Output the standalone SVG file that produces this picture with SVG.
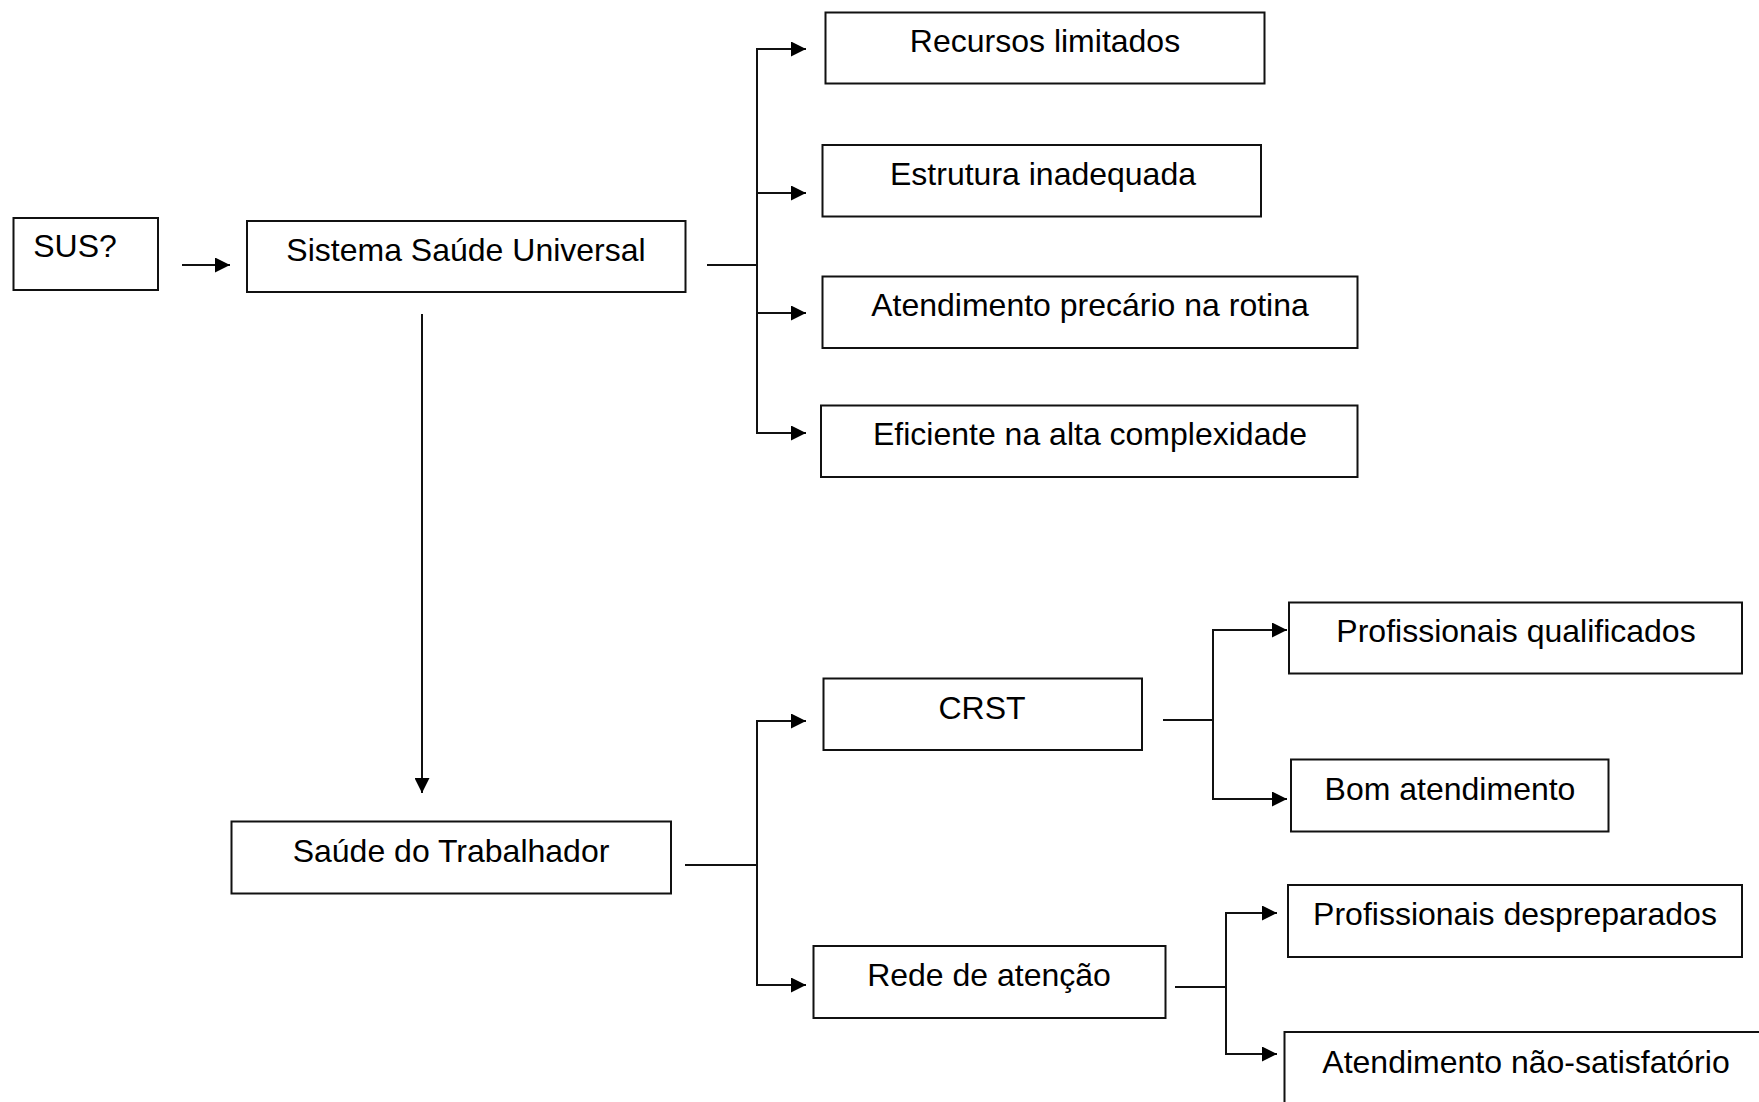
<svg xmlns="http://www.w3.org/2000/svg" width="1759" height="1102" viewBox="0 0 1759 1102">
<style>
.box{fill:#fff;stroke:#111;stroke-width:2}
.t{font-family:"Liberation Sans",Arial,sans-serif;font-size:32px;fill:#000;text-anchor:middle}
.c{fill:none;stroke:#111;stroke-width:2}
</style>
<defs>
<marker id="ah" markerUnits="userSpaceOnUse" markerWidth="15" markerHeight="15" refX="15" refY="7.5" orient="auto">
<path d="M0,0 L15,7.5 L0,15 z" fill="#000"/>
</marker>
</defs>
<rect width="1759" height="1102" fill="#fff"/>
<g id="connectors">
<line class="c" x1="182" y1="265" x2="230" y2="265" marker-end="url(#ah)"/>
<line class="c" x1="707" y1="265" x2="757" y2="265"/>
<polyline class="c" points="806,49 757,49 757,433 806,433" marker-end="url(#ah)"/>
<line class="c" x1="757" y1="49" x2="806" y2="49" marker-end="url(#ah)"/>
<line class="c" x1="757" y1="193" x2="806" y2="193" marker-end="url(#ah)"/>
<line class="c" x1="757" y1="313" x2="806" y2="313" marker-end="url(#ah)"/>
<line class="c" x1="422" y1="314" x2="422" y2="793" marker-end="url(#ah)"/>
<line class="c" x1="685" y1="865" x2="757" y2="865"/>
<polyline class="c" points="806,721 757,721 757,985 806,985" marker-end="url(#ah)"/>
<line class="c" x1="757" y1="721" x2="806" y2="721" marker-end="url(#ah)"/>
<line class="c" x1="1163" y1="720" x2="1213" y2="720"/>
<polyline class="c" points="1287,630 1213,630 1213,799 1287,799" marker-end="url(#ah)"/>
<line class="c" x1="1213" y1="630" x2="1287" y2="630" marker-end="url(#ah)"/>
<line class="c" x1="1175" y1="987" x2="1226" y2="987"/>
<polyline class="c" points="1277,913 1226,913 1226,1054 1277,1054" marker-end="url(#ah)"/>
<line class="c" x1="1226" y1="913" x2="1277" y2="913" marker-end="url(#ah)"/>
</g>
<g id="n-sus"><rect class="box" x="13.5" y="218" width="144.5" height="72"/><text class="t" x="75" y="257">SUS?</text></g>
<g id="n-sistema"><rect class="box" x="247" y="221" width="438.5" height="71"/><text class="t" x="466" y="261">Sistema Saúde Universal</text></g>
<g id="n-recursos"><rect class="box" x="825.5" y="12.5" width="439" height="71"/><text class="t" x="1045" y="52">Recursos limitados</text></g>
<g id="n-estrutura"><rect class="box" x="822.5" y="145" width="438.5" height="71.5"/><text class="t" x="1043" y="185">Estrutura inadequada</text></g>
<g id="n-atendimento"><rect class="box" x="822.5" y="276.5" width="535" height="71.5"/><text class="t" x="1090" y="315.5">Atendimento precário na rotina</text></g>
<g id="n-eficiente"><rect class="box" x="821" y="405.5" width="536.5" height="71.5"/><text class="t" x="1090" y="445">Eficiente na alta complexidade</text></g>
<g id="n-trabalhador"><rect class="box" x="231.5" y="821.5" width="439.5" height="72"/><text class="t" x="451" y="862">Saúde do Trabalhador</text></g>
<g id="n-crst"><rect class="box" x="823.5" y="678.5" width="318.5" height="71.5"/><text class="t" x="982" y="718.5">CRST</text></g>
<g id="n-rede"><rect class="box" x="813.5" y="946" width="352" height="72"/><text class="t" x="989" y="985.5">Rede de atenção</text></g>
<g id="n-qualificados"><rect class="box" x="1289" y="602.5" width="453" height="71"/><text class="t" x="1516" y="642">Profissionais qualificados</text></g>
<g id="n-bom"><rect class="box" x="1291" y="759.5" width="317.5" height="72"/><text class="t" x="1450" y="799.5">Bom atendimento</text></g>
<g id="n-despreparados"><rect class="box" x="1288" y="885" width="454" height="72"/><text class="t" x="1515" y="925">Profissionais despreparados</text></g>
<g id="n-naosatisfatorio"><rect class="box" x="1284.5" y="1032" width="490" height="90"/><text class="t" x="1526" y="1072.5">Atendimento não-satisfatório</text></g>
</svg>
